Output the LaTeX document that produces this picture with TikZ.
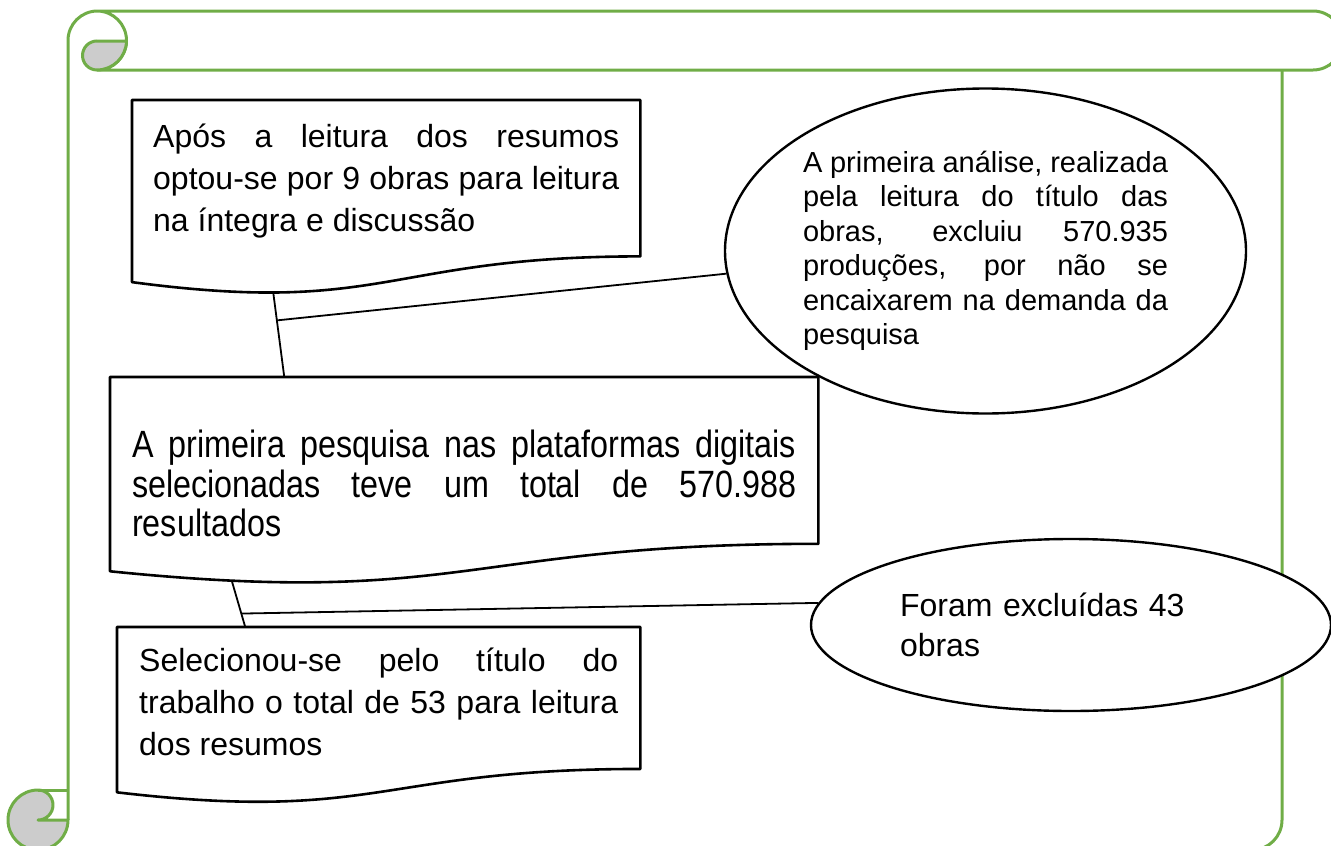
\documentclass[tikz,border=0pt]{standalone}
\usepackage{fontspec}
\setmainfont{Liberation Sans}
\newfontfamily\narrowfont[FakeStretch=0.85]{Liberation Sans}
\usetikzlibrary{shapes.geometric, calc, positioning}
\definecolor{scrollgreen}{RGB}{112,173,71}
\definecolor{rollgray}{RGB}{204,204,204}
% outline of a document box: node, height, position of the tail on the wave
\newcommand{\docshape}[3]{%
  \draw[docline] (#1.north west) -- (#1.north east)
    -- ($(#1.north east)+(0,0.802*#2)$)
    .. controls ($(#1.north)+(0,0.802*#2)$) and ($(#1.north)+(0,1.1075*#2)$)
    .. ($(#1.north west)+(0,0.934*#2)$) coordinate[pos=#3] (#1tail)
    -- cycle;}

\begin{document}
\begin{tikzpicture}[x=1pt, y=-1pt,
        scroll/.style={draw=scrollgreen, line width=3pt, line join=round},
        docbox/.style={anchor=north west, inner xsep=22pt, align=justify, font=\fontsize{32}{42}\selectfont},
        docline/.style={line width=2.6pt, line join=round},
        oval/.style={ellipse, draw, line width=2.4pt, fill=white, inner sep=0pt},
        link/.style={line width=1.8pt}
    ]
        \useasboundingbox (0,0) rectangle (1331,846);
        \clip (0,0) rectangle (1331,846);

        % Scroll frame
        \draw[scroll] (68,820) -- (68,40.5) arc[start angle=180, end angle=270, radius=29.5]
            -- (1313,11) arc[start angle=-90, end angle=90, radius=29.5]
            -- (97,70) arc[start angle=90, end angle=-90, radius=29.5];
        \draw[scroll, fill=rollgray] (97,41) -- (126.5,41) arc[start angle=1, end angle=90, radius=29.5]
            arc[start angle=90, end angle=270, radius=14.5] -- cycle;
        \draw[scroll] (1282,70) -- (1282,820) arc[start angle=0, end angle=90, radius=30];
        \draw[scroll, fill=rollgray] (38,790) arc[start angle=270, end angle=0, radius=30]
            -- (38,820) arc[start angle=90, end angle=-90, radius=15] -- cycle;
        \draw[scroll] (38,790) -- (68,790);

        % Document boxes
        \node[docbox, inner xsep=21pt, text width=466pt, inner ysep=24pt] (b1) at (132,100)
            {Após a leitura dos resumos\linebreak optou-se por 9 obras para leitura\linebreak na íntegra e discussão};
        \docshape{b1}{195}{0.77}
        \node[docbox, text width=664pt, inner ysep=53pt, font=\narrowfont\fontsize{38}{39.5}\selectfont] (b2) at (110,377)
            {A primeira pesquisa nas plataformas digitais\linebreak selecionadas teve um total de 570.988\linebreak resultados};
        \docshape{b2}{208}{0.87}
        \node[docbox, text width=479pt, inner ysep=21pt] (b3) at (117,627)
            {Selecionou-se pelo título do\linebreak trabalho o total de 53 para leitura\linebreak dos resumos};
        \docshape{b3}{177}{0.5}

        % Ovals
        \node[oval, minimum width=521pt, minimum height=325pt, text width=365pt, align=justify,
            font=\fontsize{29}{34.5}\selectfont] (e1) at (985.5,251)
            {A primeira análise, realizada\linebreak pela leitura do título das\linebreak obras, excluiu 570.935\linebreak produções, por não se\linebreak encaixarem na demanda da\linebreak pesquisa};
        \node[oval, minimum width=520pt, minimum height=172pt, text width=342pt, align=left,
            font=\fontsize{32}{40}\selectfont] (e2) at (1071,625)
            {Foram excluídas 43\\obras};

        % Connectors
        \coordinate (b2head) at ($(b2.north west)!0.246!(b2.north east)$);
        \coordinate (b3head) at ($(b3.north west)!0.245!(b3.north east)$);
        \draw[link] (b1tail) -- (b2head);
        \draw[link] (b2tail) -- (b3head);
        \coordinate (j1) at ($(b1tail)!0.33!(b2head)$);
        \coordinate (j2) at ($(b2tail)!0.71!(b3head)$);
        \draw[link] (e1.185) -- (j1);
        \draw[link] (e2.175) -- (j2);
\end{tikzpicture}
\end{document}
